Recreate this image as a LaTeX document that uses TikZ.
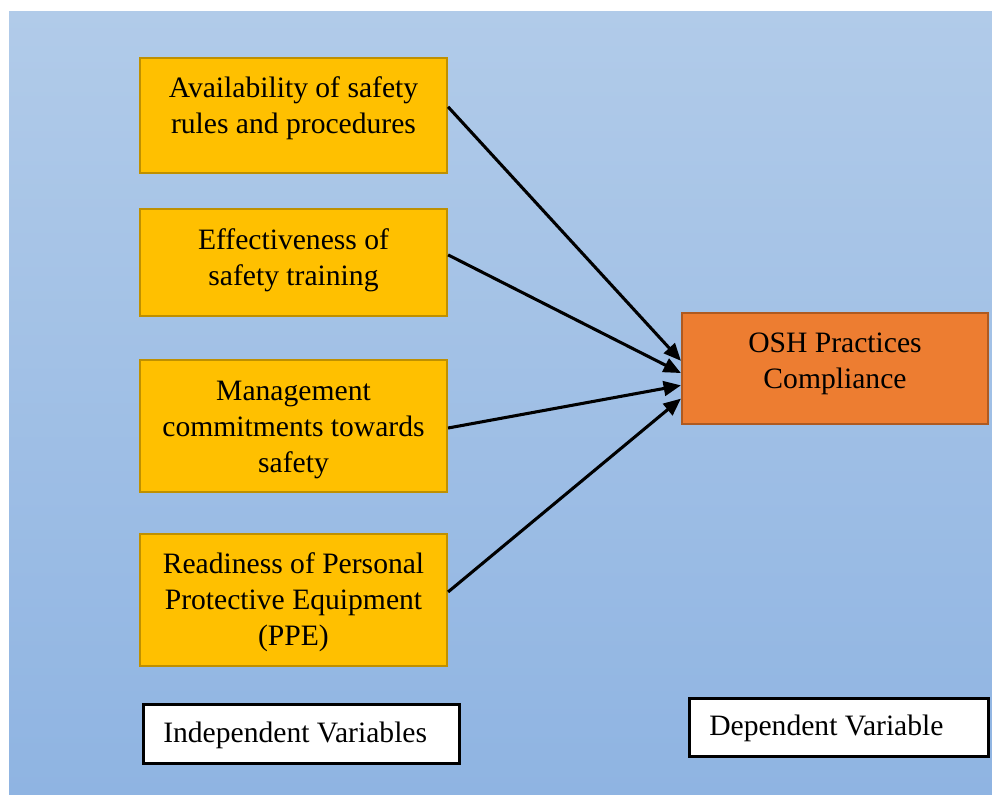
\documentclass[tikz,border=0pt]{standalone}
\usepackage{fontspec}
\setmainfont{Liberation Serif}
\usetikzlibrary{arrows.meta,calc}
\definecolor{bgtop}{HTML}{B1CBE9}
\definecolor{bgbot}{HTML}{8FB4E2}
\definecolor{gold}{HTML}{FFC000}
\definecolor{golddark}{HTML}{BF9000}
\definecolor{orangefill}{HTML}{ED7D31}
\definecolor{orangedark}{HTML}{AE5A21}
\newcommand{\boxfont}{\fontsize{22.2}{27}\selectfont}
\tikzset{
  varbox/.style={draw=golddark, fill=gold, line width=1.6pt, minimum width=307*0.75pt, inner sep=0pt},
  depbox/.style={draw=orangedark, fill=orangefill, line width=1.6pt, minimum width=306*0.75pt,
    minimum height=111*0.75pt, inner sep=0pt},
  legendbox/.style={draw=black, fill=white, line width=2.2pt, anchor=north west, inner sep=0pt},
  boxtext/.style={anchor=base, inner sep=0pt, font=\boxfont},
  legendtext/.style={anchor=base west, inner sep=0pt, font=\boxfont},
  link/.style={line width=2.3pt, -{Triangle[length=13pt, width=11pt]}}
}
\newcommand{\lines}[1]{\begin{tabular}[t]{@{}c@{}}#1\end{tabular}}
\begin{document}
\begin{tikzpicture}[x=0.75pt, y=-0.75pt]
  \useasboundingbox (0,0) rectangle (992,794);
  % shaded canvas
  \shade[top color=bgtop, bottom color=bgbot] (9,11) rectangle (992,794);

  % independent variables
  \node[varbox, minimum height=115*0.75pt] (b1) at (293.5,115.5) {};
  \node[varbox, minimum height=107*0.75pt] (b2) at (293.5,262.5) {};
  \node[varbox, minimum height=132*0.75pt] (b3) at (293.5,426) {};
  \node[varbox, minimum height=132*0.75pt] (b4) at (293.5,600) {};
  \node[boxtext] (t1) at (293.5,97) {\lines{Availability of safety\\rules and procedures}};
  \node[boxtext] (t2) at (293.5,249) {\lines{Effectiveness of\\safety training}};
  \node[boxtext] (t3) at (293.5,400) {\lines{Management\\commitments towards\\safety}};
  \node[boxtext] (t4) at (293.5,573) {\lines{Readiness of Personal\\Protective Equipment\\(PPE)}};

  % dependent variable
  \node[depbox] (dv) at (835,368.5) {};
  \node[boxtext] (tdv) at (835,352) {\lines{OSH Practices\\Compliance}};

  % legend labels
  \node[legendbox, minimum width=316*0.75pt, minimum height=59*0.75pt] (lind) at (142,703) {};
  \node[legendtext] (tind) at (163,742) {Independent Variables};
  \node[legendbox, minimum width=299*0.75pt, minimum height=58*0.75pt] (ldep) at (688,697) {};
  \node[legendtext] (tdep) at (709,735) {Dependent Variable};

  % connectors
  \draw[link] ($(b1.north east)!0.426!(b1.south east)$) -- ($(dv.north west)!0.432!(dv.south west)$);
  \draw[link] ($(b2.north east)!0.43!(b2.south east)$) -- ($(dv.north west)!0.54!(dv.south west)$);
  \draw[link] ($(b3.north east)!0.515!(b3.south east)$) -- ($(dv.north west)!0.649!(dv.south west)$);
  \draw[link] ($(b4.north east)!0.44!(b4.south east)$) -- ($(dv.north west)!0.766!(dv.south west)$);
\end{tikzpicture}
\end{document}
